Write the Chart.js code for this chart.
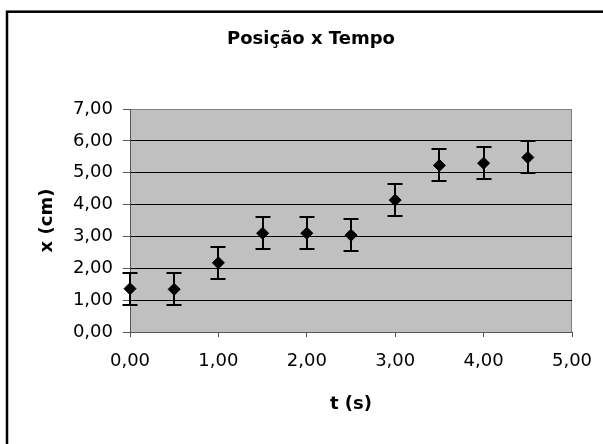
<!DOCTYPE html>
<html>
<head>
<meta charset="utf-8">
<script src="https://cdn.jsdelivr.net/npm/chart.js@4/dist/chart.umd.min.js"></script>
<style>
  html, body { margin: 0; padding: 0; background: #fff; overflow: hidden; }
  #wrap { width: 603px; height: 444px; position: relative; }
</style>
</head>
<body>
<div id="wrap"><canvas id="c" width="603" height="444"></canvas></div>
<script>
// ---- data ----
const chartTitle = 'Posição x Tempo';
const xAxisTitle = 't (s)';
const yAxisTitle = 'x (cm)';
const timeValues = [0.0, 0.5, 1.0, 1.5, 2.0, 2.5, 3.0, 3.5, 4.0, 4.5];
const positionValues = [1.36, 1.34, 2.17, 3.10, 3.10, 3.04, 4.14, 5.23, 5.30, 5.48];
const positionErrors = [0.5, 0.5, 0.5, 0.5, 0.5, 0.5, 0.5, 0.5, 0.5, 0.5];
const xTickValues = [0, 1, 2, 3, 4, 5];
const xTickLabels = ['0,00', '1,00', '2,00', '3,00', '4,00', '5,00'];
const yTickValues = [0, 1, 2, 3, 4, 5, 6, 7];
const yTickLabels = ['0,00', '1,00', '2,00', '3,00', '4,00', '5,00', '6,00', '7,00'];

const FONT = "'DejaVu Sans', 'Liberation Sans', sans-serif";

const backgroundPlugin = {
  id: 'bgFrame',
  beforeDraw(chart) {
    const { ctx, chartArea: a } = chart;
    ctx.save();
    ctx.fillStyle = '#ffffff';
    ctx.fillRect(0, 0, chart.width, chart.height);
    ctx.strokeStyle = '#000000';
    ctx.lineWidth = 2.5;
    ctx.strokeRect(7, 11.7, 1000, 1000);
    ctx.fillStyle = '#c0c0c0';
    ctx.fillRect(a.left, a.top, a.right - a.left, a.bottom - a.top);
    ctx.strokeStyle = '#808080';
    ctx.lineWidth = 1;
    ctx.strokeRect(a.left + 0.5, a.top + 0.5, a.right - a.left - 1, a.bottom - a.top);
    ctx.restore();
  }
};

const errorBarPlugin = {
  id: 'errorBars',
  beforeDatasetsDraw(chart) {
    const { ctx, scales } = chart;
    const xs = scales.x, ys = scales.y;
    ctx.save();
    ctx.strokeStyle = '#000000';
    ctx.lineWidth = 2;
    timeValues.forEach((t, i) => {
      const px = Math.round(xs.getPixelForValue(t));
      const top = Math.round(ys.getPixelForValue(positionValues[i] + positionErrors[i]));
      const bot = Math.round(ys.getPixelForValue(positionValues[i] - positionErrors[i]));
      ctx.beginPath();
      ctx.moveTo(px, top); ctx.lineTo(px, bot);
      ctx.moveTo(px - 7.5, top); ctx.lineTo(px + 7.5, top);
      ctx.moveTo(px - 7.5, bot); ctx.lineTo(px + 7.5, bot);
      ctx.stroke();
    });
    ctx.restore();
  }
};

new Chart(document.getElementById('c'), {
  type: 'scatter',
  data: {
    datasets: [{
      label: 'x',
      data: timeValues.map((t, i) => ({ x: t, y: positionValues[i] })),
      pointStyle: 'rectRot',
      pointRadius: 6,
      pointHoverRadius: 6,
      backgroundColor: '#000000',
      borderColor: '#000000',
      borderWidth: 1,
      showLine: false,
      clip: false
    }]
  },
  options: {
    responsive: false,
    animation: false,
    devicePixelRatio: 1,
    layout: { padding: { left: 50, right: 31, top: 0, bottom: 0 } },
    plugins: {
      legend: { display: false },
      tooltip: { enabled: false },
      title: {
        display: true,
        text: chartTitle,
        color: '#000000',
        font: { family: FONT, size: 18, weight: 'bold', lineHeight: 1.2 },
        padding: { top: 28.2, bottom: 59.2 }
      }
    },
    scales: {
      x: {
        type: 'linear',
        min: 0, max: 5,
        afterBuildTicks: (s) => { s.ticks = xTickValues.map(v => ({ value: v })); },
        afterFit: (s) => { s.height = 112; s.paddingRight = 0; s.paddingLeft = 0; },
        ticks: {
          color: '#000000',
          font: { family: FONT, size: 18, lineHeight: 1.2 },
          padding: 14,
          maxRotation: 0,
          callback: (v, i) => xTickLabels[i]
        },
        grid: { drawOnChartArea: false, drawTicks: true, tickLength: 5, tickColor: '#555555' },
        border: { color: '#555555', width: 1 },
        title: {
          display: true,
          text: xAxisTitle,
          color: '#000000',
          font: { family: FONT, size: 18, weight: 'bold', lineHeight: 1.2 },
          padding: { top: 0, bottom: 29.2 }
        }
      },
      y: {
        type: 'linear',
        min: 0, max: 7,
        afterBuildTicks: (s) => { s.ticks = yTickValues.map(v => ({ value: v })); },
        afterFit: (s) => { s.width = 80; },
        ticks: {
          color: '#000000',
          font: { family: FONT, size: 18, lineHeight: 1.2 },
          padding: 10,
          callback: (v, i) => yTickLabels[i]
        },
        grid: {
          color: (c) => (c.tick && c.tick.value === 7) ? '#808080' : '#000000',
          drawTicks: true,
          tickLength: 7,
          tickColor: '#555555'
        },
        border: { color: '#555555', width: 1 },
        title: {
          display: true,
          text: yAxisTitle,
          color: '#000000',
          font: { family: FONT, size: 18, weight: 'bold', lineHeight: 1.2 },
          padding: { top: -13.8, bottom: 0 }
        }
      }
    }
  },
  plugins: [backgroundPlugin, errorBarPlugin]
});
</script>
</body>
</html>
